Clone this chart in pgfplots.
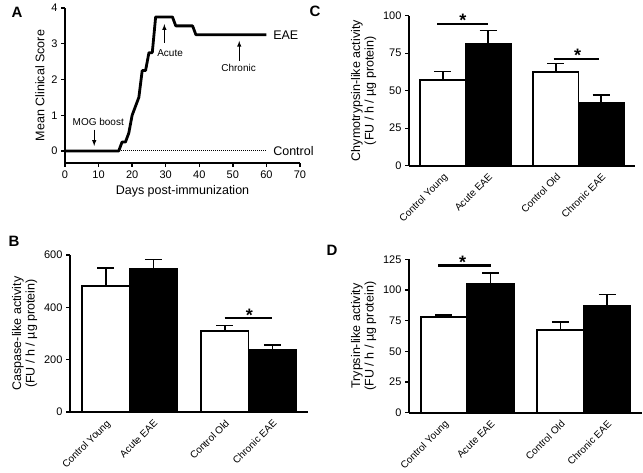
\documentclass[border=0pt]{standalone}
\usepackage{fontspec}
\setmainfont{Liberation Sans}
\usepackage{pgfplots}
\pgfplotsset{compat=1.18}
\tikzset{sigstar/.style={anchor=base, inner sep=0pt, yshift=-3pt, font=\fontsize{18}{18}\selectfont\bfseries}}
\pgfplotsset{
 prism/.style={
  scale only axis,
  axis x line*=bottom, axis y line*=left,
  axis line style={line width=1.8pt},
  every tick/.style={black, line width=1.3pt},
  tick align=outside,
  major tick length=4pt,
  tick label style={font=\fontsize{11}{11}\selectfont},
  label style={font=\fontsize{12.5}{13.5}\selectfont},
  /pgf/number format/assume math mode=true,
  anchor=south west,
 },
 barax/.style={prism, xmin=-0.75, xmax=4.25, ymin=0,
  xtick={0,1,2.5,3.5},
  xticklabels={Control Young, Acute EAE, Control Old, Chronic EAE},
  x tick label style={rotate=45, anchor=north east, inner sep=2pt, font=\fontsize{10}{10}\selectfont},
  xtick style={draw=none},
  ylabel style={align=center},
  ybar, bar width=1, bar shift=0pt, clip=false,
 },
 wbar/.style={fill=white, draw=black, line width=1.8pt,
  error bars/.cd, y dir=plus, y explicit,
  error bar style={line width=1.6pt},
  error mark options={rotate=90, mark size=8.5pt, line width=1.6pt}},
 bbar/.style={fill=black, draw=black, line width=1.8pt,
  error bars/.cd, y dir=plus, y explicit,
  error bar style={line width=1.6pt},
  error mark options={rotate=90, mark size=8.5pt, line width=1.6pt}},
}
\begin{document}
\begin{tikzpicture}[x=1pt,y=1pt]
\useasboundingbox (0pt,0pt) rectangle (643pt,473pt);

% Panel letters
\node[font=\fontsize{15}{15}\selectfont\bfseries] at (17pt,461pt) {A};
\node[font=\fontsize{15}{15}\selectfont\bfseries] at (14pt,232pt) {B};
\node[font=\fontsize{15}{15}\selectfont\bfseries] at (315pt,462pt) {C};
\node[font=\fontsize{15}{15}\selectfont\bfseries] at (332pt,223pt) {D};

% Panel A
\begin{axis}[prism, at={(65pt,310pt)}, width=235pt, height=155pt,
  xmin=0, xmax=70, ymin=-0.336, ymax=4,
  xtick={0,10,...,70}, ytick={0,1,2,3,4},
  xlabel={Days post-immunization}, ylabel={Mean Clinical Score},
  clip=false]
\addplot[black, line width=1pt, densely dotted] coordinates {(0,0) (60,0)};
\addplot[black, line width=2.8pt, line join=round] coordinates {
 (0,0) (16,0) (17,0.25) (18,0.25) (19,0.5) (20,1.0) (21,1.25) (22,1.5)
 (23,2.25) (24,2.25) (25,2.75) (26,2.75) (27,3.75) (32,3.75) (33,3.5)
 (38,3.5) (39,3.25) (60,3.25)};
\node[anchor=west, font=\fontsize{12.5}{13}\selectfont] at (axis cs:61,3.25) {EAE};
\node[anchor=west, font=\fontsize{12.5}{13}\selectfont] at (axis cs:61,0) {Control};
\node[font=\fontsize{10}{10}\selectfont] at (axis cs:9.9,0.82) {MOG boost};
\draw[-latex, line width=1pt] (axis cs:8.7,0.6) -- (axis cs:8.7,0.14);
\node[font=\fontsize{10}{10}\selectfont] at (axis cs:31.3,2.75) {Acute};
\draw[-latex, line width=1pt] (axis cs:29.6,3.03) -- (axis cs:29.6,3.55);
\node[font=\fontsize{10}{10}\selectfont] at (axis cs:51.7,2.32) {Chronic};
\draw[-latex, line width=1pt] (axis cs:51.9,2.52) -- (axis cs:51.9,3.08);
\end{axis}

% Panel B
\begin{axis}[barax, at={(70pt,61pt)}, width=238pt, height=157pt,
  ymax=600, ytick={0,200,400,600},
  ylabel={Caspase-like activity\\(FU / h / µg protein)}]
\addplot[wbar] coordinates {(0,481) +- (0,70) (2.5,309) +- (0,21)};
\addplot[bbar] coordinates {(1,545) +- (0,38) (3.5,237) +- (0,18)};
\draw[line width=2.2pt] (axis cs:2.5,358) -- (axis cs:3.5,358);
\node[sigstar] at (axis cs:3.02,358) {*};
\end{axis}

% Panel C
\begin{axis}[barax, at={(409pt,307.3pt)}, width=226pt, height=150pt,
  ymax=100, ytick={0,25,50,75,100},
  ylabel={Chymotrypsin-like activity\\(FU / h / µg protein)}]
\addplot[wbar] coordinates {(0,57.2) +- (0,5.5) (2.5,62.2) +- (0,6)};
\addplot[bbar] coordinates {(1,81.2) +- (0,8.8) (3.5,42) +- (0,5)};
\draw[line width=2.2pt] (axis cs:-0.12,94.7) -- (axis cs:1.0,94.7);
\node[sigstar] at (axis cs:0.44,94.7) {*};
\draw[line width=2.2pt] (axis cs:2.45,71.3) -- (axis cs:3.45,71.3);
\node[sigstar] at (axis cs:2.98,71.3) {*};
\end{axis}

% Panel D
\begin{axis}[barax, at={(409pt,60.3pt)}, width=233pt, height=153.4pt,
  ymax=125, ytick={0,25,50,75,100,125},
  ylabel={Trypsin-like activity\\(FU / h / µg protein)}]
\addplot[wbar] coordinates {(0,77.8) +- (0,1.6) (2.5,67.2) +- (0,6.8)};
\addplot[bbar] coordinates {(1,105) +- (0,9) (3.5,87) +- (0,9.3)};
\draw[line width=2.2pt] (axis cs:-0.12,119.9) -- (axis cs:1.0,119.9);
\node[sigstar] at (axis cs:0.4,119.9) {*};
\end{axis}
\end{tikzpicture}
\end{document}
